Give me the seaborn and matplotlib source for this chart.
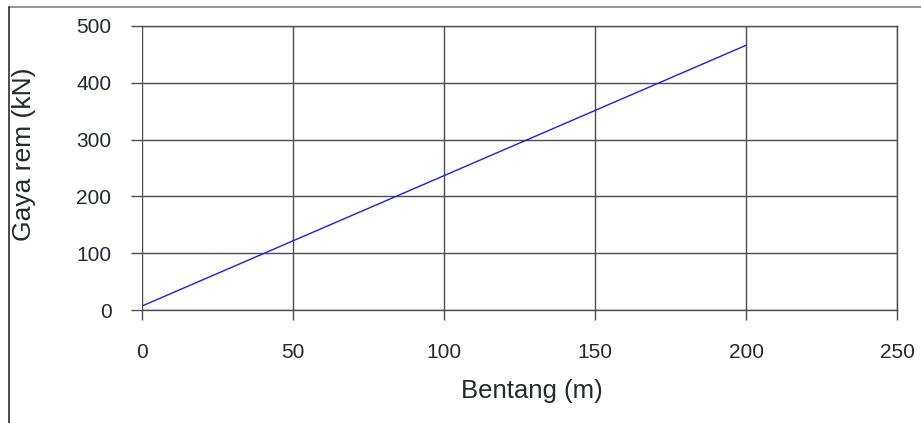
import matplotlib
matplotlib.use("Agg")
import matplotlib.pyplot as plt
import seaborn as sns
import pandas as pd
from matplotlib.lines import Line2D

# Brake force versus span
bentang = [0, 200]
gaya_rem = [7, 466]

x_ticks = [0, 50, 100, 150, 200, 250]
y_ticks = [0, 100, 200, 300, 400, 500]

df = pd.DataFrame({"Bentang (m)": bentang, "Gaya rem (kN)": gaya_rem})

sns.set_theme(style="white")
plt.rcParams["font.family"] = ["Liberation Sans", "DejaVu Sans"]

W, H, DPI = 921, 423, 100
fig = plt.figure(figsize=(W / DPI, H / DPI), dpi=DPI)
fig.patch.set_facecolor("white")

left, right, top, bottom = 142, 897, 26, 310
ax = fig.add_axes([left / W, 1 - bottom / H, (right - left) / W, (bottom - top) / H])

sns.lineplot(data=df, x="Bentang (m)", y="Gaya rem (kN)", ax=ax,
             color="#1a1aff", linewidth=1.0)

ax.set_xlim(0, 250)
ax.set_ylim(0, 500)
ax.set_xticks(x_ticks)
ax.set_yticks(y_ticks)
ax.set_xticklabels([str(v) for v in x_ticks])
ax.set_yticklabels([str(v) for v in y_ticks])

grid_c = "#4a4d52"
text_c = "#23272e"
ax.grid(True, color=grid_c, linewidth=1.0)
ax.set_axisbelow(True)
for side in ["top", "right", "bottom"]:
    ax.spines[side].set_color(grid_c)
    ax.spines[side].set_linewidth(1.0)
ax.spines["left"].set_visible(False)

ax.tick_params(axis="x", which="both", bottom=True, length=7, width=1.0,
               color=grid_c, pad=17, labelsize=15, labelcolor=text_c)
ax.tick_params(axis="y", which="both", left=True, length=8, width=1.0,
               color=grid_c, pad=14, labelsize=15, labelcolor=text_c)

ax.set_xlabel("Bentang (m)", fontsize=18.5, color=text_c)
ax.set_ylabel("Gaya rem (kN)", fontsize=19, color=text_c, va="center")
# label positions in axes coordinates
ax.xaxis.set_label_coords((532 - left) / (right - left), -(391 - bottom) / (bottom - top),
                          transform=ax.transAxes)
ax.xaxis.label.set_va("center")
ax.yaxis.set_label_coords(-(left - 24) / (right - left), (bottom - 154) / (bottom - top))

# Outer chart frame (top and left edges)
fig.add_artist(Line2D([9 / W, 1], [1 - 7 / H, 1 - 7 / H], transform=fig.transFigure,
                      color="#7d8188", linewidth=1.2))
fig.add_artist(Line2D([9 / W, 9 / W], [1 - 7 / H, 0], transform=fig.transFigure,
                      color="#2a2d33", linewidth=1.2))

fig.savefig("out.png", dpi=DPI, facecolor="white")
